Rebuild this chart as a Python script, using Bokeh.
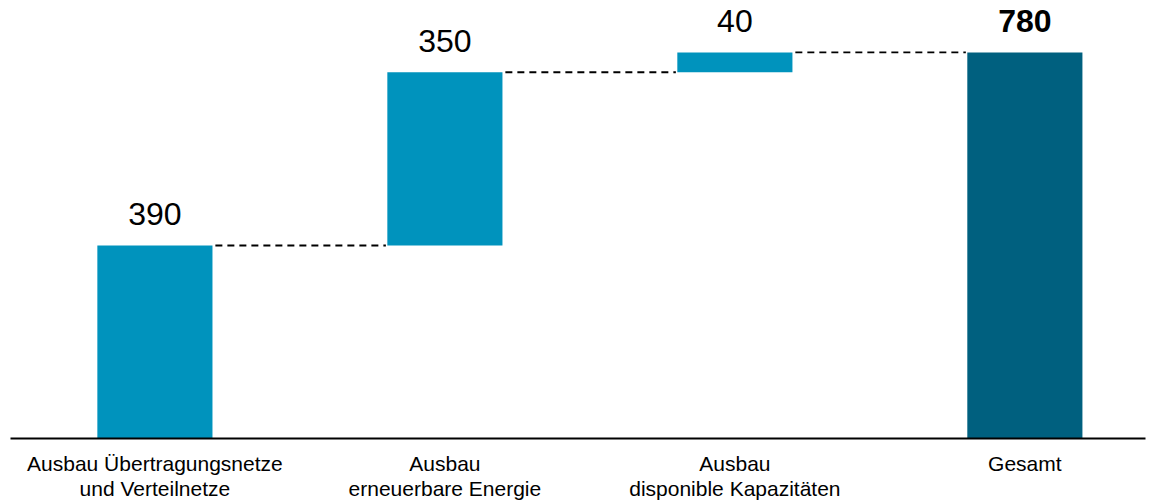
import numpy as np
from bokeh.plotting import figure
from bokeh.models import ColumnDataSource, FixedTicker, Range1d
from bokeh.core.properties import value
from bokeh.embed import file_html
from bokeh.resources import INLINE

categories = ["Ausbau Übertragungsnetze\nund Verteilnetze",
              "Ausbau\nerneuerbare Energie",
              "Ausbau\ndisponible Kapazitäten",
              "Gesamt"]
increments = [390, 350, 40]
total = 780
label_texts = ["390", "350", "40", "780"]

inc = np.array(increments, dtype=float)
tops = np.cumsum(inc)
bottoms = tops - inc
xs = np.arange(len(categories))

all_bottoms = list(bottoms) + [0.0]
all_tops = list(tops) + [float(total)]
colors = ["#0093BD"] * len(increments) + ["#00607F"]

bar_src = ColumnDataSource(dict(x=xs, bottom=all_bottoms, top=all_tops, color=colors))

p = figure(width=1155, height=502, output_backend="svg", toolbar_location=None,
           x_range=Range1d(-0.498, 3.416), y_range=Range1d(0, 885),
           min_border_left=10, min_border_right=10, min_border_top=0, min_border_bottom=64)
p.outline_line_color = None
p.grid.grid_line_color = None
p.yaxis.visible = False
p.background_fill_color = "white"
p.border_fill_color = "white"

bw = 0.397
p.vbar(x="x", bottom="bottom", top="top", width=bw, fill_color="color",
       line_color=None, source=bar_src)

# connectors
x0 = xs[:-1] + bw / 2 + 0.01
x1 = xs[1:] - bw / 2 - 0.005
ylev = list(tops)
p.segment(x0=x0, y0=ylev, x1=x1, y1=ylev, line_color="black", line_width=1.8,
          line_dash="7 5")

# value labels
p.text(x=xs[:-1], y=all_tops[:-1], text=label_texts[:-1], text_align="center",
       text_baseline="alphabetic", y_offset=-31, text_font=value("Liberation Sans"),
       text_font_size="32px", text_color="black")
p.text(x=xs[-1:], y=all_tops[-1:], text=label_texts[-1:], text_align="center",
       text_baseline="alphabetic", y_offset=-31, text_font=value("Liberation Sans"),
       text_font_size="32px", text_font_style="bold", text_color="black")

ax = p.xaxis[0]
ax.ticker = FixedTicker(ticks=list(xs))
ax.major_label_overrides = {int(i): c for i, c in zip(xs, categories)}
ax.major_label_text_font = "Liberation Sans"
ax.major_label_text_font_size = "21px"
ax.major_label_text_color = "black"
ax.major_label_text_line_height = 1.1
ax.major_label_standoff = 7
ax.major_tick_line_color = None
ax.minor_tick_line_color = None
ax.axis_line_color = "black"
ax.axis_line_width = 2

open("out.html", "w").write(file_html(p, INLINE))
